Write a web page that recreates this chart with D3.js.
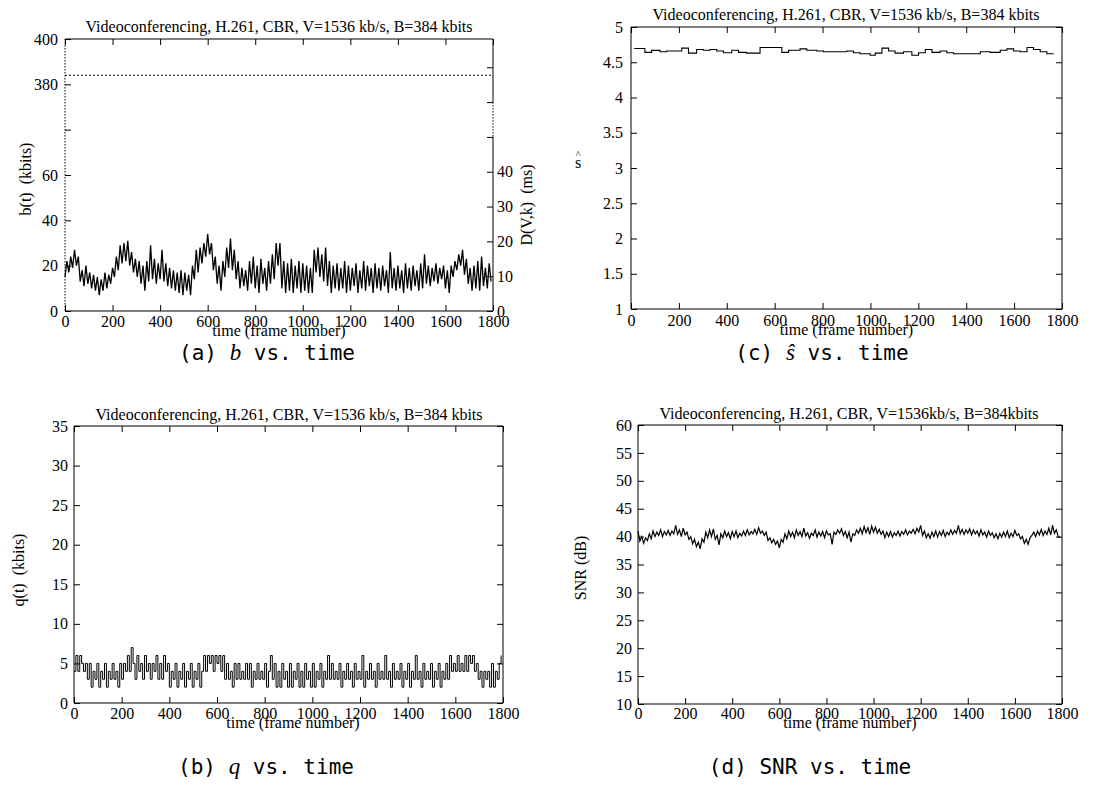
<!DOCTYPE html>
<html><head><meta charset="utf-8">
<script src="https://cdn.jsdelivr.net/npm/d3@7"></script>
<style>body{margin:0;background:#fff} svg{display:block}</style>
</head><body>
<svg id="c" width="1106" height="793"></svg>
<script>
// ---------------- DATA ----------------
const frameStep = 8; // frames between samples of the noisy traces
const xTickValues = [0,200,400,600,800,1000,1200,1400,1600,1800];

// (a) buffer occupancy b(t), kbits
const bValues = [
15,22,17,24,19,27,20,24,13,18,11,20,12,17,10,16,9,15,7,14,9,17,10,16,12,
19,15,24,18,29,21,30,22,31,20,26,17,23,15,22,12,20,9,22,13,29,14,23,12,21,
14,27,13,21,11,19,10,18,9,17,8,18,7,17,9,16,7,20,14,27,17,28,21,30,24,
34,25,30,18,24,12,20,9,22,15,28,19,32,18,27,14,22,10,19,11,18,9,22,12,24,
10,20,8,23,12,19,9,22,12,25,14,30,20,30,10,22,8,21,9,23,8,20,10,22,8,
21,9,20,8,19,8,27,17,28,15,25,13,28,11,22,8,20,10,21,9,19,10,22,8,20,
9,19,11,21,8,18,10,22,9,20,11,19,8,21,10,19,9,20,11,18,8,26,10,19,9,
20,10,18,8,21,10,19,9,20,11,18,9,21,10,25,12,20,11,19,13,21,12,19,14,20,
10,18,8,20,15,22,18,25,20,27,16,23,12,19,9,20,10,22,9,24,11,19,10,21,13
];
const bTickValues = [0,20,40,60,80,100,120];
const bTickLabels = ["0","20","40","60","","380","400"];
const bBreakOffset = 280;   // upper part of the broken axis is shifted by this
const bufferSize = 384;     // B, kbits
const channelRate = 1536;   // V, kb/s
const dTickValues = [0,10,20,30,40,50,60,70];
const dTickLabels = ["0","10","20","30","40","","",""];

// (b) q(t), kbits
const qValues = [
4,6,4,6,5,4,5,3,5,2,4,3,5,2,4,3,5,2,4,3,5,3,4,2,5,
3,5,4,6,4,7,5,3,6,4,5,3,6,4,5,3,5,4,6,3,5,3,6,4,5,
2,4,3,5,2,4,3,5,2,4,3,5,2,4,3,5,2,4,6,4,6,5,6,4,6,
5,6,4,6,3,5,3,4,2,5,3,5,3,4,3,5,3,5,2,4,3,5,3,4,3,
5,2,4,6,3,5,2,4,2,5,3,4,2,5,2,4,3,5,2,4,2,5,3,4,2,
5,2,4,3,5,2,4,3,6,3,5,3,4,3,5,2,4,3,5,3,4,2,5,3,4,
3,6,2,4,3,5,3,4,2,5,3,4,3,6,3,4,2,5,3,4,3,5,2,4,3,
5,2,4,3,6,3,4,2,5,3,4,3,5,2,4,3,5,2,4,3,5,3,6,4,5,
4,6,4,5,4,6,4,6,5,6,4,5,3,4,2,4,3,4,2,5,2,4,3,5,6
];
const qTickValues = [0,5,10,15,20,25,30,35];

// (c) s-hat, piecewise constant
const sHatStarts = [13,58,86,121,149,212,240,274,302,330,358,386,421,449,483,539,630,658,706,734,
  776,804,901,929,957,999,1020,1048,1076,1103,1138,1173,1201,1229,1257,1291,1319,1347,1459,1500,
  1542,1570,1598,1626,1654,1681,1709,1737];
const sHatEnd = 1765;
const sHatValues = [4.696,4.64,4.668,4.65,4.66,4.70,4.63,4.68,4.67,4.68,4.66,4.635,4.67,4.64,4.63,
  4.71,4.64,4.67,4.69,4.67,4.66,4.65,4.66,4.635,4.62,4.60,4.63,4.70,4.66,4.63,4.65,4.60,4.635,4.68,
  4.64,4.66,4.635,4.62,4.65,4.64,4.67,4.69,4.66,4.65,4.71,4.68,4.65,4.62];
const sTickValues = [1,1.5,2,2.5,3,3.5,4,4.5,5];

// (d) SNR, dB
const snrValues = [
41.0,39.2,40.0,38.8,39.8,39.3,40.5,39.6,41.0,40.0,40.8,40.2,41.2,40.0,40.9,40.3,41.1,40.2,41.0,40.5,42.0,40.4,41.2,40.0,41.5,
40.3,40.8,39.5,40.0,38.7,39.5,38.2,39.0,37.8,39.6,39.0,40.8,39.8,41.2,40.0,41.4,39.5,40.2,38.5,40.5,39.8,41.0,40.0,40.7,39.6,
40.9,40.0,41.0,39.8,40.6,40.1,41.0,40.2,41.2,40.3,40.9,40.5,41.3,40.4,41.6,40.6,41.0,40.2,40.8,39.3,39.8,38.9,39.5,38.6,39.2,
38.0,39.5,39.0,40.5,39.6,41.0,40.0,40.8,39.8,41.2,40.2,40.9,40.0,41.5,40.1,40.7,39.7,40.6,40.2,41.2,39.9,40.8,40.1,40.9,39.8,
41.0,40.3,40.5,38.6,40.8,40.4,41.2,40.6,41.4,40.2,40.9,39.8,40.8,39.0,40.5,40.2,41.2,40.6,41.5,40.5,41.8,40.7,41.6,40.4,41.9,
40.8,41.7,40.6,41.3,40.4,41.0,39.8,40.8,40.0,40.9,39.9,40.7,40.2,41.0,40.1,40.9,40.4,41.2,40.3,41.0,40.6,41.3,40.5,41.5,40.8,
42.0,40.2,41.0,39.8,40.5,39.7,40.8,40.0,41.0,39.9,40.9,40.2,41.1,40.0,40.8,40.3,41.2,40.4,41.1,40.6,42.0,40.5,41.3,40.4,41.2,
40.6,41.4,40.3,41.2,40.5,41.0,40.1,41.2,40.3,40.8,39.9,41.0,40.2,40.7,39.8,40.5,39.6,40.6,39.9,40.8,40.0,41.0,39.8,40.6,40.0,
41.1,40.2,40.5,39.6,40.0,38.8,39.5,38.6,39.8,40.2,40.8,40.0,41.0,40.3,41.3,40.2,41.0,40.4,41.5,40.3,42.0,40.6,41.2,40.0,39.8
];
const snrTickValues = [10,15,20,25,30,35,40,45,50,55,60];

const titleA = "Videoconferencing, H.261, CBR, V=1536 kb/s, B=384 kbits";
const titleD = "Videoconferencing, H.261, CBR, V=1536kb/s, B=384kbits";
const xLabel = "time (frame number)";

// ---------------- DRAWING ----------------
const SERIF = "'Liberation Serif','Times New Roman',Times,serif";
const MONO = "'DejaVu Sans Mono','Liberation Mono',monospace";
const svg = d3.select("#c");

function styleAxis(sel, size) {
  sel.attr("font-family", SERIF).attr("font-size", size);
  sel.selectAll(".domain").remove();
  sel.selectAll(".tick line").attr("stroke", "#000");
  sel.selectAll(".tick text").attr("fill", "#000");
}

function panel(o) {
  const g = svg.append("g");
  const x = d3.scaleLinear().domain([0, 1800]).range([o.x0, o.x1]);
  const y = d3.scaleLinear().domain(o.yDomain).range([o.yBot, o.yTop]);
  const tl = 6;
  g.append("g").attr("transform", `translate(0,${o.yBot})`)
    .call(d3.axisBottom(x).tickValues(xTickValues).tickSize(-tl).tickPadding(o.xPad || 5).tickFormat(d3.format("d")))
    .call(s => styleAxis(s, 16));
  g.append("g").attr("transform", `translate(0,${o.yTop})`)
    .call(d3.axisTop(x).tickValues(xTickValues).tickSize(-tl).tickFormat(""))
    .call(s => styleAxis(s, 16));
  const la = d3.axisLeft(y).tickValues(o.yTicks).tickSize(-tl).tickPadding(o.yPad || 7);
  if (o.yLabels) la.tickFormat((d, i) => o.yLabels[i]); else la.tickFormat(d => String(d));
  g.append("g").attr("transform", `translate(${o.x0},0)`).call(la).call(s => styleAxis(s, 16));
  if (!o.noRight) {
    g.append("g").attr("transform", `translate(${o.x1},0)`)
      .call(d3.axisRight(y).tickValues(o.yTicks).tickSize(-tl).tickFormat(""))
      .call(s => styleAxis(s, 16));
  }
  const line = (x1, y1, x2, y2, dash) => g.append("line").attr("x1", x1).attr("y1", y1).attr("x2", x2).attr("y2", y2)
    .attr("stroke", "#000").attr("stroke-width", 1).attr("stroke-dasharray", dash || null);
  line(o.x0, o.yTop, o.x1, o.yTop);
  line(o.x0, o.yBot, o.x1, o.yBot);
  line(o.x0, o.yTop, o.x0, o.yBot, o.leftDash);
  if (!o.customRight) line(o.x1, o.yTop, o.x1, o.yBot);
  g.append("text").attr("x", o.titleX).attr("y", o.titleY).attr("text-anchor", "middle")
    .attr("font-family", SERIF).attr("font-size", 16).text(o.title);
  g.append("text").attr("x", o.xLabX != null ? o.xLabX : (o.x0 + o.x1) / 2).attr("y", o.xLabY).attr("text-anchor", "middle")
    .attr("font-family", SERIF).attr("font-size", 16).text(xLabel);
  if (o.yLabel) {
    g.append("text").attr("transform", `translate(${o.yLabX},${o.yLabY}) rotate(-90)`)
      .attr("text-anchor", "middle").attr("font-family", SERIF).attr("font-size", 16)
      .style("white-space", "pre").text(o.yLabel);
  }
  return { g, x, y, line };
}

function caption(cx, cy, prefix, mathVar, suffix) {
  const t = svg.append("text").attr("x", cx).attr("y", cy).attr("text-anchor", "middle")
    .attr("font-family", MONO).attr("font-size", 21).style("white-space", "pre");
  t.append("tspan").text(prefix);
  if (mathVar) t.append("tspan").attr("font-family", SERIF).attr("font-style", "italic").attr("font-size", 23).text(mathVar);
  t.append("tspan").text(suffix);
  return t;
}

// ----- (a) -----
{
  const P = panel({ x0: 65, x1: 493, yTop: 39, yBot: 311, yDomain: [0, 120],
    yTicks: bTickValues, yLabels: bTickLabels, leftDash: "1.5,1.5", customRight: true,
    title: titleA, titleX: 279, titleY: 31.5, xLabY: 336, xPad: 5,
    yLabel: "b(t)  (kbits)", yLabX: 31, yLabY: 179, noRight: true });
  const { g, x, y, line } = P;
  const yD = d3.scaleLinear().domain([0, 120 / channelRate * 1000]).range([311, 39]);
  g.append("g").attr("transform", "translate(493,0)")
    .call(d3.axisRight(yD).tickValues(dTickValues).tickSize(-6).tickPadding(4).tickFormat((d, i) => dTickLabels[i]))
    .call(s => styleAxis(s, 16));
  line(493, 39, 493, yD(60));
  line(493, yD(60), 493, yD(50), "1.5,1.5");
  line(493, yD(50), 493, 311);
  g.append("text").attr("transform", `translate(532,205) rotate(-90)`).attr("text-anchor", "middle")
    .attr("font-family", SERIF).attr("font-size", 16).style("white-space", "pre").text("D(V,k)  (ms)");
  const by = y(bufferSize - bBreakOffset);
  line(65, by, 493, by, "2,2");
  g.append("path").datum(bValues).attr("fill", "none").attr("stroke", "#000").attr("stroke-width", 1.3)
    .attr("d", d3.line().x((d, i) => x(i * frameStep)).y(d => y(d)));
  caption(267, 360, "(a) ", "b", " vs. time");
}

// ----- (c) -----
{
  const { g, x, y } = panel({ x0: 631, x1: 1062, yTop: 27, yBot: 309, yDomain: [1, 5],
    yTicks: sTickValues, yPad: 8, title: titleA, titleX: 846, titleY: 19.5, xLabY: 335, xPad: 6 });
  g.append("text").attr("x", 578).attr("y", 168).attr("text-anchor", "middle")
    .attr("font-family", SERIF).attr("font-size", 16).text("s");
  g.append("text").attr("x", 578).attr("y", 158).attr("text-anchor", "middle")
    .attr("font-family", SERIF).attr("font-size", 10).text("^");
  const pts = sHatStarts.map((f, i) => [f, sHatValues[i]]);
  pts.push([sHatEnd, sHatValues[sHatValues.length - 1]]);
  g.append("path").datum(pts).attr("fill", "none").attr("stroke", "#000").attr("stroke-width", 1.1)
    .attr("d", d3.line().curve(d3.curveStepAfter).x(d => x(d[0])).y(d => y(d[1])));
  caption(822, 360, "(c) ", "ŝ", " vs. time");
}

// ----- (b) -----
{
  const { g, x, y } = panel({ x0: 74, x1: 503, yTop: 426, yBot: 703, yDomain: [0, 35],
    yTicks: qTickValues, yPad: 6, title: titleA, titleX: 289, titleY: 419.5, xLabY: 728, xPad: 5,
    xLabX: 293, yLabel: "q(t)  (kbits)", yLabX: 24, yLabY: 570 });
  g.append("path").datum(qValues).attr("fill", "none").attr("stroke", "#000").attr("stroke-width", 1)
    .attr("d", d3.line().curve(d3.curveStepAfter).x((d, i) => x(i * frameStep)).y(d => y(d)));
  caption(266, 774, "(b) ", "q", " vs. time");
}

// ----- (d) -----
{
  const { g, x, y } = panel({ x0: 638, x1: 1062, yTop: 425, yBot: 704, yDomain: [10, 60],
    yTicks: snrTickValues, yPad: 6, title: titleD, titleX: 849, titleY: 418.5, xLabY: 728, xPad: 4,
    yLabel: "SNR (dB)", yLabX: 586, yLabY: 568 });
  g.append("path").datum(snrValues).attr("fill", "none").attr("stroke", "#000").attr("stroke-width", 1.2)
    .attr("d", d3.line().x((d, i) => x(i * frameStep)).y(d => y(d)));
  caption(810, 774, "(d) ", "", "SNR vs. time");
}
</script>
</body></html>
